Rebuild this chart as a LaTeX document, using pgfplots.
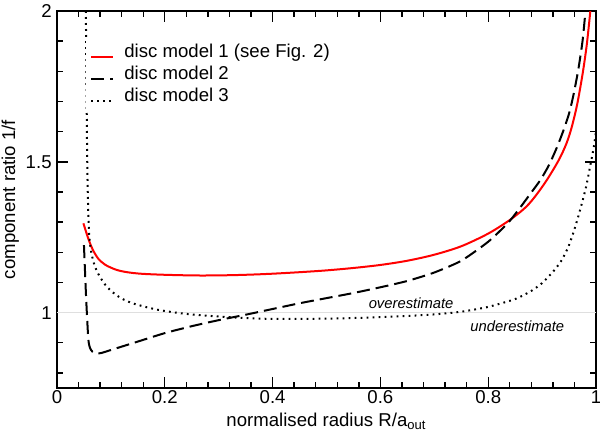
\documentclass[border=0pt]{standalone}
\usepackage{fontspec}
\setmainfont{Liberation Sans}
\usepackage{pgfplots}
\pgfplotsset{compat=1.18}
\begin{document}
\fontsize{9.3}{11}\selectfont
\begin{tikzpicture}
\begin{axis}[name=ax, scale only axis, width=269.5pt, height=188.5pt,
  xmin=0, xmax=1, ymin=0.75, ymax=2,
  xtick={0,0.2,0.4,0.6,0.8,1},
  minor xtick={0.04,0.08,0.12,0.16,0.24,0.28,0.32,0.36,0.44,0.48,0.52,0.56,0.64,0.68,0.72,0.76,0.84,0.88,0.92,0.96},
  ytick={1,1.5,2},
  minor ytick={0.8,0.9,1.1,1.2,1.3,1.4,1.6,1.7,1.8,1.9},
  major tick length=5.5pt, minor tick length=3pt,
  every tick/.style={black, line width=0.7pt},
  axis line style={line width=0.8pt},
  /pgf/number format/assume math mode=true,
  tick label style={font=\fontsize{9.3}{11}\selectfont},
  xticklabel style={yshift=2.2pt},
  yticklabel style={xshift=0.6pt},
  label style={font=\fontsize{9.3}{11}\selectfont},
  xlabel={normalised radius R/a\textsubscript{out}},
  ylabel={component ratio 1/f},
  xlabel style={at={(axis description cs:0.5,-0.1029)}, anchor=base},
  ylabel style={at={(axis description cs:-0.0779,0.5)}, anchor=base},
  legend style={at={(axis description cs:0.0538,0.931)}, anchor=north west, draw=none, fill=white,
    inner xsep=2pt, inner ysep=3pt, font=\fontsize{9.3}{11}\selectfont,
    row sep=2.2pt, column sep=5pt,
    nodes={inner sep=0pt, text height=6.8pt, text depth=2pt, anchor=base west}},
  legend cell align=left,
  legend image code/.code={\draw[#1] (0pt,0pt) -- (11pt,0pt);},
]
\addplot[gray!25, line width=0.6pt, forget plot] coordinates {(0,1) (1,1)};

\addplot[red, line width=1pt, smooth, tension=0.5] coordinates {
(0.049,1.296) (0.055,1.262) (0.061,1.231) (0.068,1.203) (0.077,1.178) (0.09,1.158)
(0.11,1.142) (0.13,1.134) (0.155,1.129) (0.19,1.126) (0.23,1.124) (0.27,1.123)
(0.32,1.124) (0.36,1.126) (0.4,1.129) (0.45,1.134) (0.5,1.140) (0.55,1.148)
(0.6,1.158) (0.65,1.172) (0.7,1.192) (0.75,1.220) (0.8,1.262) (0.84,1.307)
(0.87,1.350) (0.89,1.392) (0.91,1.443) (0.931,1.506) (0.945,1.56) (0.955,1.615) (0.965,1.69)
(0.975,1.79) (0.983,1.89) (0.9895,2.0)};
\addlegendentry{disc model 1 (see Fig. 2)}

\addplot[black, line width=1pt, dash pattern=on 6.5pt off 3pt, smooth, tension=0.4] coordinates {
(0.05,1.224) (0.054,1.05) (0.058,0.915) (0.061,0.884) (0.066,0.870) (0.074,0.865) (0.082,0.866)
(0.1,0.876) (0.15,0.904) (0.2,0.932) (0.25,0.955) (0.3,0.975) (0.35,0.993)
(0.4,1.012) (0.45,1.031) (0.5,1.048) (0.55,1.065) (0.6,1.084) (0.65,1.105)
(0.7,1.133) (0.75,1.172) (0.8,1.235) (0.837,1.298) (0.86,1.35) (0.879,1.396)
(0.897,1.44) (0.913,1.49) (0.928,1.55) (0.94,1.606) (0.95,1.66) (0.958,1.72) (0.967,1.804) (0.975,1.9) (0.9805,2.0)};
\addlegendentry{disc model 2}

\addplot[black, line width=1pt, dash pattern=on 0.9pt off 2.1pt, smooth, tension=0.4] coordinates {
(0.0535,2.0) (0.0545,1.8) (0.0555,1.6) (0.0565,1.45) (0.058,1.33) (0.060,1.25)
(0.064,1.195) (0.07,1.155) (0.077,1.127) (0.087,1.098) (0.098,1.076) (0.11,1.058)
(0.123,1.044) (0.14,1.031) (0.166,1.018) (0.188,1.009) (0.22,1.000) (0.25,0.994)
(0.3,0.987) (0.35,0.982) (0.4,0.979) (0.45,0.979) (0.5,0.980) (0.55,0.982)
(0.6,0.985) (0.65,0.989) (0.7,0.994) (0.75,1.003) (0.8,1.019) (0.85,1.045)
(0.88,1.072) (0.9,1.098) (0.92,1.135) (0.935,1.17) (0.948,1.215) (0.958,1.265) (0.967,1.318) (0.975,1.37) (0.982,1.42) (0.989,1.484)
(0.996,1.55) (1.0,1.6)};
\addlegendentry{disc model 3}

\node[font=\fontsize{7.4}{9}\selectfont\itshape] at (axis cs:0.657,1.032) {overestimate};
\node[font=\fontsize{7.4}{9}\selectfont\itshape] at (axis cs:0.854,0.956) {underestimate};
\end{axis}
\pgfresetboundingbox
\path[use as bounding box] ([shift={(-28.5pt,-24pt)}]ax.south west) rectangle ([shift={(2pt,5.5pt)}]ax.north east);
\end{tikzpicture}
\end{document}
